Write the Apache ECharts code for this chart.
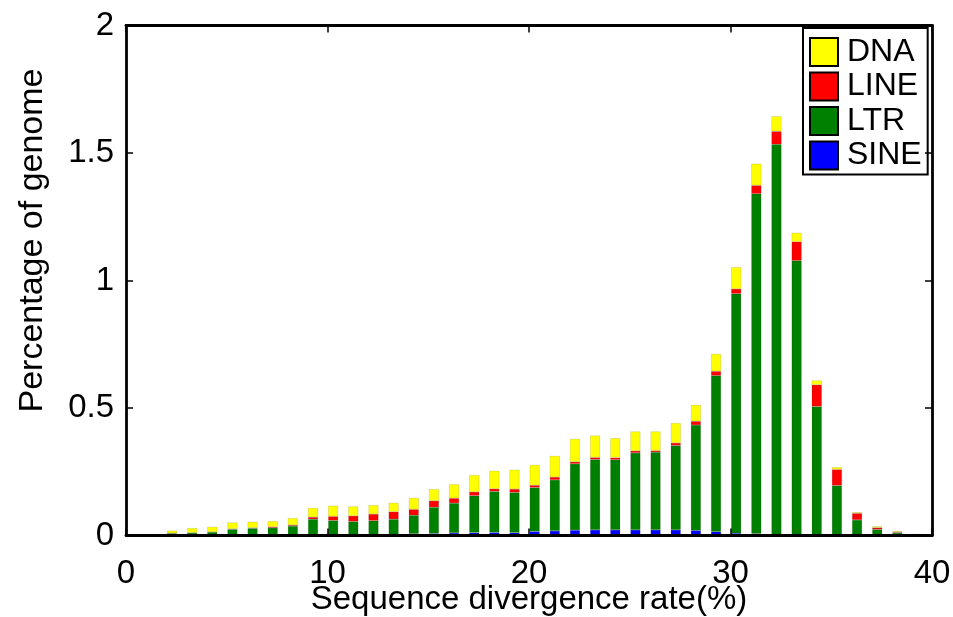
<!DOCTYPE html>
<html>
<head>
<meta charset="utf-8">
<script src="https://cdn.jsdelivr.net/npm/echarts@6/dist/echarts.min.js"></script>
<style>
html,body{margin:0;padding:0;background:#fff;}
#main{width:953px;height:617px;}
</style>
</head>
<body>
<div id="main"></div>
<script>
// Divergence bins (%), one bar per bin
var bins = ['0','1','2','3','4','5','6','7','8','9','10','11','12','13','14','15','16','17','18','19','20','21','22','23','24','25','26','27','28','29','30','31','32','33','34','35','36','37','38','39'];
var sineValues = [0,0,0,0,0,0,0,0,0,0,0.001,0.002,0.003,0.005,0.0065,0.008,0.010,0.011,0.012,0.011,0.016,0.018,0.021,0.022,0.022,0.022,0.022,0.022,0.020,0.015,0.009,0.007,0.005,0.003,0.001,0,0,0,0,0];
var ltrValues = [0.001,0.001,0.008,0.010,0.013,0.024,0.028,0.030,0.037,0.064,0.058,0.053,0.055,0.059,0.073,0.103,0.117,0.145,0.161,0.158,0.172,0.200,0.260,0.276,0.275,0.302,0.305,0.331,0.413,0.612,0.939,1.333,1.529,1.075,0.505,0.196,0.061,0.024,0.010,0.001];
var lineValues = [0,0,0.001,0.001,0.001,0.002,0.002,0.004,0.004,0.008,0.016,0.022,0.026,0.029,0.023,0.025,0.019,0.015,0.010,0.013,0.009,0.011,0.008,0.008,0.008,0.008,0.006,0.010,0.015,0.017,0.019,0.033,0.051,0.074,0.085,0.063,0.026,0.007,0.003,0.001];
var dnaValues = [0.004,0.004,0.010,0.018,0.020,0.025,0.024,0.022,0.027,0.036,0.042,0.037,0.035,0.035,0.045,0.046,0.055,0.066,0.071,0.076,0.080,0.083,0.090,0.086,0.077,0.076,0.075,0.078,0.064,0.068,0.085,0.085,0.059,0.035,0.017,0.009,0.004,0.005,0.004,0.004];
var xTicks = [0,10,20,30,40];
var yTicks = [0,0.5,1,1.5,2];
var seriesNames = ['DNA','LINE','LTR','SINE'];

var FONT = "'Liberation Sans',Arial,Helvetica,sans-serif";

var chart = echarts.init(document.getElementById('main'), null, {renderer:'canvas'});
var axisLine = {show:true, onZero:false, lineStyle:{color:'#000', width:2.8}};
var inTick = {show:true, inside:true, length:7, lineStyle:{color:'#000', width:1.5}};
var barStyle = function(c){ return {color:c, borderColor:'rgba(0,0,0,0.22)', borderWidth:0.5}; };

var option = {
  backgroundColor:'#fff',
  animation:false,
  textStyle:{fontFamily:FONT},
  grid:[
    {left:126, right:21, top:25.5, bottom:81.5, containLabel:false, outerBoundsMode:'none'},
    {left:121.6, right:25.4, top:25.5, bottom:81.5, containLabel:false, outerBoundsMode:'none'}
  ],
  legend:{
    orient:'vertical', left:803, top:28,
    data:seriesNames,
    backgroundColor:'#fff', borderColor:'#000', borderWidth:2,
    padding:[8,6,3,6], itemGap:2.5, itemWidth:28, itemHeight:28,
    icon:'rect',
    itemStyle:{borderColor:'#000', borderWidth:2},
    textStyle:{fontFamily:FONT, fontSize:32, lineHeight:32, color:'#000', padding:[0,0,0,4]}
  },
  xAxis:[{
    gridIndex:0, type:'value', min:0, max:40, interval:10, position:'bottom', z:5,
    axisLine:axisLine, axisTick:inTick, splitLine:{show:false},
    axisLabel:{color:'#000', fontSize:33, fontFamily:FONT, margin:22, customValues:xTicks},
    name:'Sequence divergence rate(%)', nameLocation:'middle', nameGap:48, nameMoveOverlap:false,
    nameTextStyle:{color:'#000', fontSize:33, fontFamily:FONT}
  },{
    gridIndex:0, type:'value', min:0, max:40, interval:10, position:'top', z:5,
    axisLine:axisLine, axisTick:inTick, axisLabel:{show:false}, splitLine:{show:false}
  },{
    gridIndex:1, type:'category', data:bins, show:false, boundaryGap:true
  }],
  yAxis:[{
    gridIndex:0, type:'value', min:0, max:2, interval:0.5, position:'left', z:5,
    axisLine:axisLine, axisTick:inTick, splitLine:{show:false},
    axisLabel:{color:'#000', fontSize:33, fontFamily:FONT, margin:12, customValues:yTicks},
    name:'Percentage of genome', nameLocation:'middle', nameGap:76, nameRotate:90, nameMoveOverlap:false,
    nameTextStyle:{color:'#000', fontSize:34, fontFamily:FONT, padding:[0,0,0,80]}
  },{
    gridIndex:0, type:'value', min:0, max:2, interval:0.5, position:'right', z:5,
    axisLine:axisLine, axisTick:inTick, axisLabel:{show:false}, splitLine:{show:false}
  },{
    gridIndex:1, type:'value', min:0, max:2, show:false
  }],
  series:[
    {name:'SINE', type:'bar', stack:'total', barWidth:10, xAxisIndex:2, yAxisIndex:2, data:sineValues, itemStyle:barStyle('#0000ff')},
    {name:'LTR', type:'bar', stack:'total', barWidth:10, xAxisIndex:2, yAxisIndex:2, data:ltrValues, itemStyle:barStyle('#008000')},
    {name:'LINE', type:'bar', stack:'total', barWidth:10, xAxisIndex:2, yAxisIndex:2, data:lineValues, itemStyle:barStyle('#ff0000')},
    {name:'DNA', type:'bar', stack:'total', barWidth:10, xAxisIndex:2, yAxisIndex:2, data:dnaValues, itemStyle:barStyle('#ffff00')}
  ]
};
chart.setOption(option);
</script>
</body>
</html>
